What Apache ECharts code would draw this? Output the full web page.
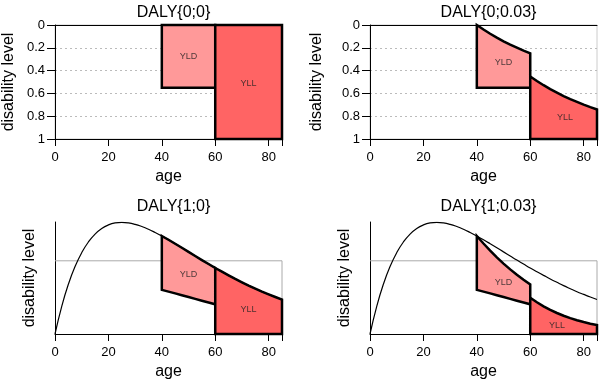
<!DOCTYPE html>
<html>
<head>
<meta charset="utf-8">
<script src="https://cdn.jsdelivr.net/npm/echarts@6/dist/echarts.min.js"></script>
<style>
  html, body { margin: 0; padding: 0; background: #fff; }
  #chart { width: 600px; height: 380px; }
</style>
</head>
<body>
<div id="chart"></div>
<script>
// panel titles
const titles = ["DALY{0;0}", "DALY{0;0.03}", "DALY{1;0}", "DALY{1;0.03}"];

// age weighting curve (bottom panels)
const curveAge = [0, 2.5, 5, 7.5, 10, 12.5, 15, 17.5, 20, 22.5, 25, 27.5, 30, 32.5, 35, 37.5, 40,
  42.5, 45, 47.5, 50, 52.5, 55, 57.5, 60, 62.5, 65, 67.5, 70, 72.5, 75, 77.5, 80, 82.5, 85];
const curveWeight = [0, 0.375, 0.679, 0.921, 1.111, 1.257, 1.365, 1.441, 1.49, 1.517, 1.525, 1.518,
  1.498, 1.468, 1.431, 1.387, 1.339, 1.287, 1.233, 1.178, 1.122, 1.066, 1.01, 0.956, 0.902,
  0.851, 0.801, 0.752, 0.706, 0.661, 0.619, 0.578, 0.541, 0.505, 0.471];

// ages along YLD (onset 40 -> death 60) and YLL (60 -> 85)
const yldAge = [40, 42.5, 45, 47.5, 50, 52.5, 55, 57.5, 60];
const yllAge = [60, 62.5, 65, 67.5, 70, 72.5, 75, 77.5, 80, 82.5, 85];

// DALY{0;0}: disability level 0.55, death at 60
const yld00 = [[40, 0], [60, 0], [60, 0.55], [40, 0.55]];
const yll00 = [[60, 0], [85, 0], [85, 1], [60, 1]];

// DALY{0;0.03}: discounted edges
const yld03Top = [0, 0.04, 0.077, 0.111, 0.143, 0.172, 0.199, 0.225, 0.248];
const yld03Base = 0.55;
const yll03Top = [0.451, 0.491, 0.528, 0.562, 0.593, 0.623, 0.65, 0.675, 0.699, 0.721, 0.741];

// DALY{1;0}: age weighted
const yld10Top = [1.339, 1.287, 1.233, 1.178, 1.122, 1.066, 1.01, 0.956, 0.902];
const yldLow = [0.603, 0.579, 0.555, 0.53, 0.505, 0.48, 0.455, 0.43, 0.406];
const yll10Top = [0.902, 0.851, 0.801, 0.752, 0.706, 0.661, 0.619, 0.578, 0.541, 0.505, 0.471];

// DALY{1;0.03}: age weighted and discounted
const yld13Top = [1.339, 1.236, 1.139, 1.047, 0.962, 0.883, 0.809, 0.741, 0.678];
const yll13Top = [0.495, 0.433, 0.378, 0.33, 0.287, 0.249, 0.217, 0.188, 0.163, 0.141, 0.122];

// gray box marking full health in the bottom panels
const boxLine = [[0, 1], [85, 1], [85, 0]];

const xTicks = [0, 20, 40, 60, 80];
const yTicks = [0, 0.2, 0.4, 0.6, 0.8, 1];

const YLD_COLOR = "#ff9999";
const YLL_COLOR = "#ff6464";
const FONT = "Liberation Sans";

const zip = (xs, ys) => xs.map((x, i) => [x, ys[i]]);

const chart = echarts.init(document.getElementById("chart"));

const grids = [
  { left: 55, top: 25, width: 227, height: 114 },
  { left: 370, top: 25, width: 227, height: 114 },
  { left: 55, top: 222, width: 227, height: 112 },
  { left: 370, top: 222, width: 227, height: 112 }
];
const yNameGap = [38, 45, 17, 17];

function polygon(idx, pts, fill) {
  return {
    type: "custom",
    xAxisIndex: idx,
    yAxisIndex: idx,
    silent: true,
    z: 3,
    data: [pts[0]],
    renderItem: function (params, api) {
      return {
        type: "polygon",
        shape: { points: pts.map(p => api.coord(p)) },
        style: { fill: fill, stroke: "#000", lineWidth: 2.5, lineJoin: "miter" }
      };
    }
  };
}

function label(idx, x, y, text) {
  return {
    type: "scatter",
    xAxisIndex: idx,
    yAxisIndex: idx,
    symbolSize: 0,
    silent: true,
    z: 6,
    data: [[x, y]],
    label: {
      show: true, position: "inside", formatter: text,
      fontFamily: FONT, fontSize: 9, color: "#222"
    }
  };
}

const xAxes = grids.map((g, i) => ({
  gridIndex: i,
  type: "value",
  min: 0, max: 85, interval: 20,
  name: "age",
  nameLocation: "middle",
  nameGap: 30,
  nameTextStyle: { fontFamily: FONT, fontSize: 16, color: "#000" },
  axisLine: { show: true, onZero: false, lineStyle: { color: "#000", width: 1 } },
  axisTick: { show: true, length: 7, lineStyle: { color: "#000" } },
  axisLabel: {
    fontFamily: FONT, fontSize: 13, color: "#000", margin: 12,
    formatter: v => (xTicks.indexOf(v) >= 0 ? String(v) : "")
  },
  splitLine: { show: false }
}));
// black top edge of the upper panels
[0, 1].forEach(i => xAxes.push({
  gridIndex: i, type: "value", position: "top", min: 0, max: 85,
  axisLine: { show: true, lineStyle: { color: "#000", width: 1 } },
  axisTick: { show: false }, axisLabel: { show: false }, splitLine: { show: false }
}));

const yAxes = grids.map((g, i) => {
  const top = i < 2;
  return {
    gridIndex: i,
    type: "value",
    inverse: top,
    min: 0,
    max: top ? 1 : 1.53,
    interval: top ? 0.2 : null,
    name: "disability level",
    nameLocation: "middle",
    nameGap: yNameGap[i],
    nameTextStyle: { fontFamily: FONT, fontSize: 16, color: "#000" },
    axisLine: { show: true, lineStyle: { color: "#000", width: 1 } },
    axisTick: { show: top, length: 8, lineStyle: { color: "#000" } },
    axisLabel: {
      show: top, fontFamily: FONT, fontSize: 13, color: "#000", margin: 10,
      formatter: v => (yTicks.indexOf(v) >= 0 ? String(v) : "")
    },
    splitLine: {
      show: top,
      lineStyle: { color: "#bbb", type: [2, 3], width: 1 }
    }
  };
});

const series = [];
// panel 1
series.push(polygon(0, yld00, YLD_COLOR));
series.push(polygon(0, yll00, YLL_COLOR));
series.push(label(0, 50, 0.28, "YLD"));
series.push(label(0, 72.5, 0.51, "YLL"));

// panel 2
series.push(polygon(1, zip(yldAge, yld03Top).concat([[60, yld03Base], [40, yld03Base]]), YLD_COLOR));
series.push(polygon(1, zip(yllAge, yll03Top).concat([[85, 1], [60, 1]]), YLL_COLOR));
series.push(label(1, 50, 0.33, "YLD"));
series.push(label(1, 73, 0.81, "YLL"));

// panels 3 and 4
[2, 3].forEach(i => {
  series.push({
    type: "line", xAxisIndex: i, yAxisIndex: i, data: boxLine,
    showSymbol: false, silent: true, z: 1,
    lineStyle: { color: "#aaa", width: 1 }
  });
  series.push({
    type: "line", xAxisIndex: i, yAxisIndex: i, data: zip(curveAge, curveWeight),
    smooth: true, showSymbol: false, silent: true, z: 4,
    lineStyle: { color: "#000", width: 1.2 }
  });
});
series.push(polygon(2, zip(yldAge, yld10Top).concat(zip(yldAge, yldLow).reverse()), YLD_COLOR));
series.push(polygon(2, zip(yllAge, yll10Top).concat([[85, 0], [60, 0]]), YLL_COLOR));
series.push(label(2, 50, 0.81, "YLD"));
series.push(label(2, 72.5, 0.33, "YLL"));

series.push(polygon(3, zip(yldAge, yld13Top).concat(zip(yldAge, yldLow).reverse()), YLD_COLOR));
series.push(polygon(3, zip(yllAge, yll13Top).concat([[85, 0], [60, 0]]), YLL_COLOR));
series.push(label(3, 50, 0.7, "YLD"));
series.push(label(3, 70, 0.12, "YLL"));

chart.setOption({
  animation: false,
  backgroundColor: "#fff",
  title: titles.map((t, i) => ({
    text: t,
    left: grids[i].left + grids[i].width / 2,
    top: i < 2 ? 0 : 194,
    textAlign: "center",
    textStyle: { fontFamily: FONT, fontSize: 16, fontWeight: "normal", color: "#000" }
  })),
  grid: grids.map((g, i) => Object.assign({
    show: i < 2, borderColor: "#ccc", borderWidth: 1, backgroundColor: "transparent",
    containLabel: false, outerBoundsMode: "none"
  }, g)),
  xAxis: xAxes,
  yAxis: yAxes,
  series: series
});

window.addEventListener("resize", function () { chart.resize(); });
</script>
</body>
</html>
